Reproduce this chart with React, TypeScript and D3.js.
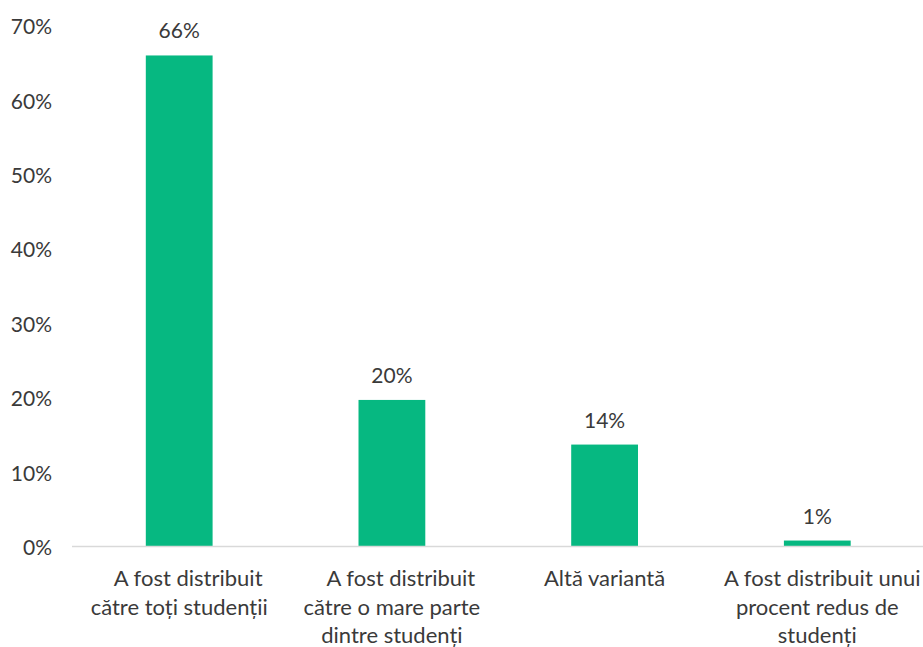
import React from "react";
import * as d3 from "d3";

const categories: string[][] = [
  ["A fost distribuit", "către toți studenții"],
  ["A fost distribuit", "către o mare parte", "dintre studenți"],
  ["Altă variantă"],
  ["A fost distribuit unui", "procent redus de", "studenți"],
];
const values: number[] = [66.0, 19.7, 13.7, 0.8];
const valueLabels: string[] = ["66%", "20%", "14%", "1%"];
const yTicks: number[] = [0, 10, 20, 30, 40, 50, 60, 70];

const W = 923;
const H = 647;
const FONT = "Lato, 'Open Sans', sans-serif";
const FS = 21;
const TEXT = "#3a3a3a";
const BAR = "#06B881";

export default function App() {
  const x = d3
    .scaleBand<number>()
    .domain(categories.map((_, i) => i))
    .range([72.85, 923.65])
    .paddingInner(0.686)
    .paddingOuter(0.343);
  const y = d3.scaleLinear().domain([0, 70]).range([546.5, 25.7]);

  return (
    <svg
      width={W}
      height={H}
      style={{ position: "absolute", left: 0, top: 0, background: "#fff" }}
      fontFamily={FONT}
      fontSize={FS}
    >
      {yTicks.map((t) => (
        <text
          key={t}
          x={52}
          y={y(t)}
          textAnchor="end"
          dominantBaseline="central"
          fill={TEXT}
        >
          {t + "%"}
        </text>
      ))}
      {values.map((v, i) => (
        <rect
          key={i}
          x={x(i)}
          y={y(v)}
          width={x.bandwidth()}
          height={y(0) - y(v)}
          fill={BAR}
        />
      ))}
      <line x1={72} x2={923} y1={546.5} y2={546.5} stroke="#d9d9d9" strokeWidth={1.5} />
      {values.map((v, i) => (
        <text
          key={"v" + i}
          x={(x(i) as number) + x.bandwidth() / 2}
          y={y(v) - 17}
          textAnchor="middle"
          fill={TEXT}
        >
          {valueLabels[i]}
        </text>
      ))}
      {categories.map((lines, i) => (
        <text
          key={"c" + i}
          x={(x(i) as number) + x.bandwidth() / 2}
          textAnchor="middle"
          fill={TEXT}
          fontSize={22}
        >
          {lines.map((ln, j) => (
            <tspan
              key={j}
              x={
                (x(i) as number) +
                x.bandwidth() / 2 +
                (j === 0 && lines.length > 1 ? (i === categories.length - 1 ? 5 : 9) : 0)
              }
              y={586 + j * 28.5}
            >
              {ln}
            </tspan>
          ))}
        </text>
      ))}
    </svg>
  );
}
